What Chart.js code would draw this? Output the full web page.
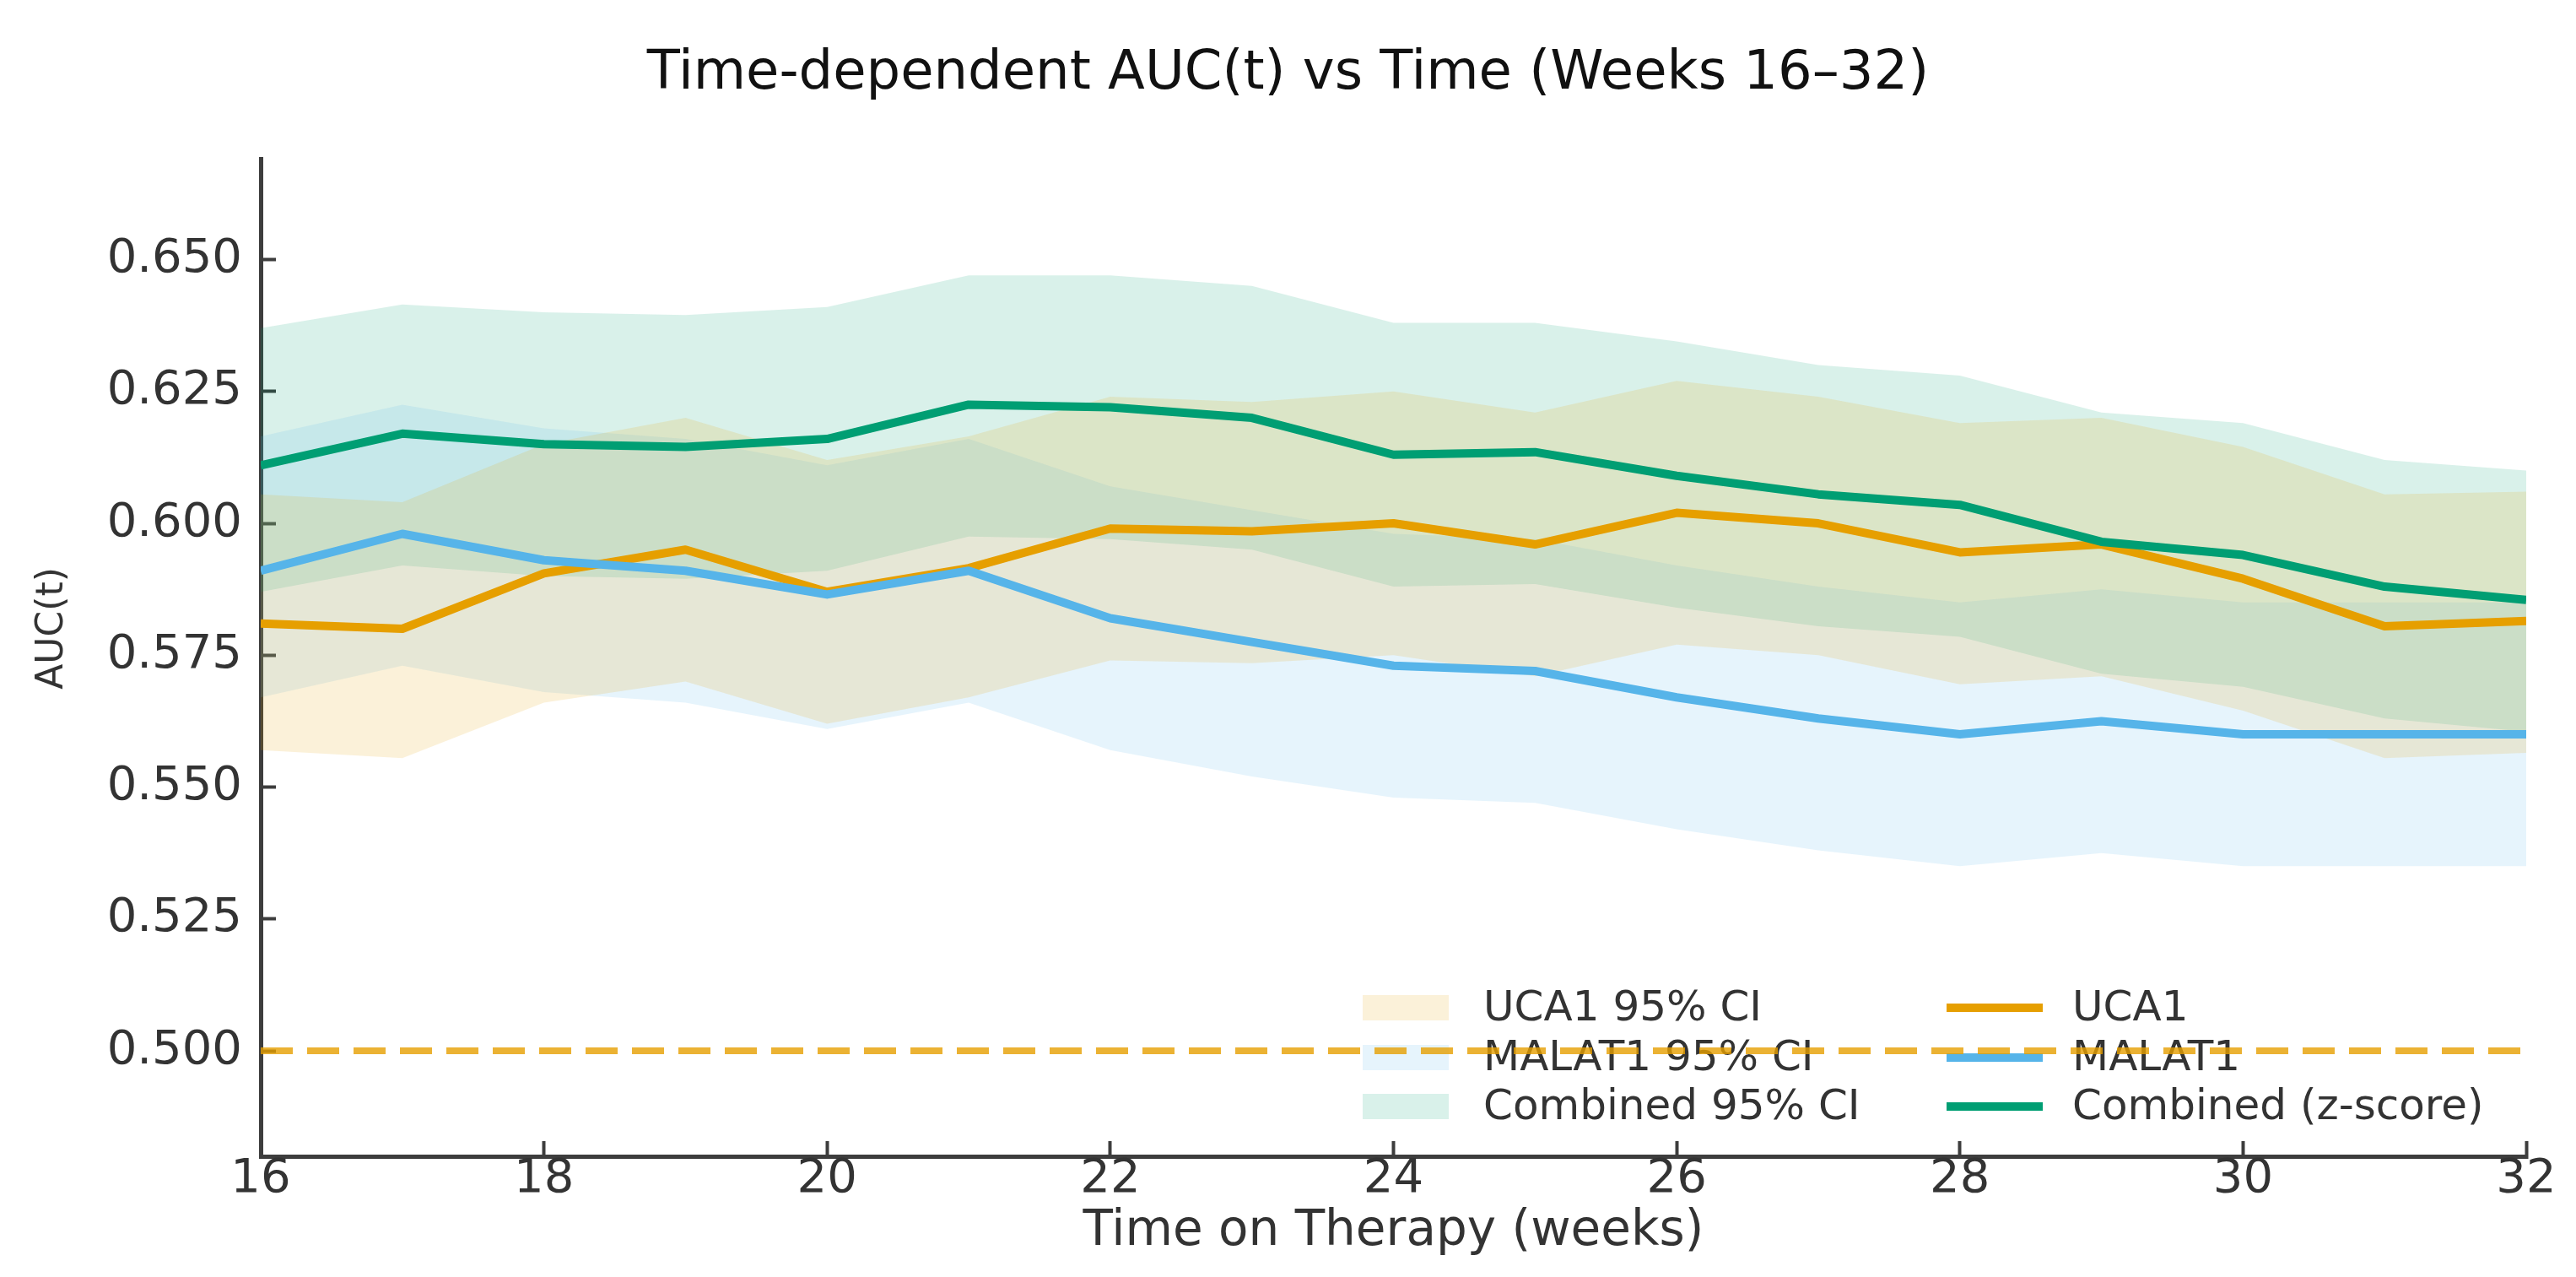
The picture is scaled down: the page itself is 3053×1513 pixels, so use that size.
<!DOCTYPE html>
<html>
<head>
<meta charset="utf-8">
<title>Time-dependent AUC(t) vs Time</title>
<script src="https://cdn.jsdelivr.net/npm/chart.js@4.4.1/dist/chart.umd.min.js"></script>
<style>
  html, body { margin: 0; padding: 0; background: #ffffff; }
  canvas { display: block; }
</style>
</head>
<body>
<canvas id="chart" width="3053" height="1513" style="width:3053px;height:1513px"></canvas>
<script>
// ---------------- data ----------------
const weeks = [16, 17, 18, 19, 20, 21, 22, 23, 24, 25, 26, 27, 28, 29, 30, 31, 32];

const uca1     = [0.581, 0.580, 0.5905, 0.595, 0.587, 0.5915, 0.599, 0.5985, 0.600, 0.596, 0.602, 0.600, 0.5945, 0.596, 0.5895, 0.5805, 0.5815];
const malat1   = [0.591, 0.598, 0.593, 0.591, 0.5865, 0.591, 0.582, 0.5775, 0.573, 0.572, 0.567, 0.563, 0.560, 0.5625, 0.560, 0.560, 0.560];
const combined = [0.611, 0.617, 0.615, 0.6145, 0.616, 0.6225, 0.622, 0.620, 0.613, 0.6135, 0.609, 0.6055, 0.6035, 0.5965, 0.594, 0.588, 0.5855];

const uca1Lower     = [0.557, 0.5555, 0.566, 0.570, 0.562, 0.567, 0.574, 0.5735, 0.575, 0.571, 0.577, 0.575, 0.5695, 0.571, 0.5645, 0.5555, 0.5565];
const uca1Upper     = [0.6055, 0.604, 0.615, 0.620, 0.612, 0.6165, 0.624, 0.623, 0.625, 0.621, 0.627, 0.624, 0.619, 0.620, 0.6145, 0.6055, 0.606];
const malat1Lower   = [0.567, 0.573, 0.568, 0.566, 0.561, 0.566, 0.557, 0.552, 0.548, 0.547, 0.542, 0.538, 0.535, 0.5375, 0.535, 0.535, 0.535];
const malat1Upper   = [0.6165, 0.6225, 0.618, 0.616, 0.611, 0.616, 0.607, 0.6025, 0.598, 0.597, 0.592, 0.588, 0.585, 0.5875, 0.585, 0.585, 0.585];
const combinedLower = [0.587, 0.592, 0.590, 0.5895, 0.591, 0.5975, 0.597, 0.595, 0.588, 0.5885, 0.584, 0.5805, 0.5785, 0.5715, 0.569, 0.563, 0.5605];
const combinedUpper = [0.637, 0.6415, 0.640, 0.6395, 0.641, 0.647, 0.647, 0.645, 0.638, 0.638, 0.6345, 0.630, 0.628, 0.621, 0.619, 0.612, 0.610];

const chanceLevel = 0.5;
const xTickStep = 2;
const yTickStep = 0.025;

// ---------------- styling ----------------
const C_UCA1 = '#E69F00';
const C_MALAT1 = '#56B4E9';
const C_COMB = '#009E73';
const F_UCA1 = 'rgba(230,159,0,0.15)';
const F_MALAT1 = 'rgba(86,180,233,0.15)';
const F_COMB = 'rgba(0,158,115,0.15)';
const FONT = 'DejaVu Sans';
const AXIS_COLOR = '#3d3d3d';

const pts = (arr) => arr.map((v, i) => ({ x: weeks[i], y: v }));
const chancePts = [weeks[0], weeks[weeks.length - 1]].map(w => ({ x: w, y: chanceLevel }));

const band = (label, data, color, fill, order) => ({
  label, data: pts(data), fill, backgroundColor: color, borderColor: 'rgba(0,0,0,0)',
  borderWidth: 0, pointRadius: 0, tension: 0, order, isBand: true
});
const line = (label, data, color, order) => ({
  label, data: pts(data), fill: false, borderColor: color, backgroundColor: color,
  borderWidth: 10, pointRadius: 0, tension: 0, borderJoinStyle: 'round', borderCapStyle: 'butt', order
});

// legend drawn inside the axes (two columns: CI patches, lines)
const legendPlugin = {
  id: 'insideLegend',
  beforeDatasetsDraw(chart) {
    const { ctx, chartArea: a } = chart;
    const ds = chart.data.datasets;
    const patches = ds.filter(d => d.isBand && d.fill !== false);
    const lines = ds.filter(d => !d.isBand && !d.isRef);
    const rowY = [a.bottom - 176, a.bottom - 117, a.bottom - 59];
    ctx.save();
    ctx.font = `50px "${FONT}"`;
    ctx.textBaseline = 'middle';
    ctx.textAlign = 'left';
    patches.forEach((d, i) => {
      const y = rowY[i];
      ctx.fillStyle = d.backgroundColor;
      ctx.fillRect(a.right - 1379, y - 15, 102, 30);
      ctx.fillStyle = '#333333';
      ctx.fillText(d.label, a.right - 1236, y + 2);
    });
    lines.forEach((d, i) => {
      const y = rowY[i];
      ctx.strokeStyle = d.borderColor;
      ctx.lineWidth = 10;
      ctx.beginPath();
      ctx.moveTo(a.right - 687, y);
      ctx.lineTo(a.right - 573, y);
      ctx.stroke();
      ctx.fillStyle = '#333333';
      ctx.fillText(d.label, a.right - 538, y + 2);
    });
    ctx.restore();
  }
};

const gridOpts = {
  drawOnChartArea: false, drawTicks: true, tickLength: -18, tickWidth: 4,
  tickColor: AXIS_COLOR, color: AXIS_COLOR
};

new Chart(document.getElementById('chart'), {
  type: 'line',
  data: {
    datasets: [
      band('UCA1 95% CI', uca1Upper, F_UCA1, '+1', 10),
      band('UCA1 lower', uca1Lower, F_UCA1, false, 11),
      band('MALAT1 95% CI', malat1Upper, F_MALAT1, '+1', 12),
      band('MALAT1 lower', malat1Lower, F_MALAT1, false, 13),
      band('Combined 95% CI', combinedUpper, F_COMB, '+1', 14),
      band('Combined lower', combinedLower, F_COMB, false, 15),
      line('UCA1', uca1, C_UCA1, 3),
      line('MALAT1', malat1, C_MALAT1, 2),
      line('Combined (z-score)', combined, C_COMB, 1),
      {
        label: 'Chance', data: chancePts, isRef: true, fill: false,
        borderColor: 'rgba(230,159,0,0.8)', borderWidth: 8, borderDash: [38, 17],
        borderCapStyle: 'butt', pointRadius: 0, order: 4
      }
    ]
  },
  options: {
    responsive: false,
    animation: false,
    devicePixelRatio: 1,
    layout: { padding: 0 },
    plugins: {
      legend: { display: false },
      tooltip: { enabled: false },
      filler: { drawTime: 'beforeDatasetsDraw', propagate: false },
      title: {
        display: true,
        text: 'Time-dependent AUC(t) vs Time (Weeks 16\u201332)',
        font: { family: FONT, size: 64, weight: 'normal' },
        color: '#111111',
        padding: { top: 50, bottom: 62 }
      }
    },
    scales: {
      x: {
        type: 'linear',
        min: weeks[0],
        max: weeks[weeks.length - 1],
        ticks: {
          stepSize: xTickStep, includeBounds: false, autoSkip: false, maxRotation: 0,
          font: { family: FONT, size: 56 }, color: '#333333', padding: 12
        },
        grid: gridOpts,
        border: { display: true, color: AXIS_COLOR, width: 5 },
        title: {
          display: true, text: 'Time on Therapy (weeks)',
          font: { family: FONT, size: 58 }, color: '#333333', padding: { top: 0, bottom: 18 }
        },
        afterFit(s) { s.height = 143; }
      },
      y: {
        type: 'linear',
        position: 'left',
        min: 0.48,
        max: 0.669,
        ticks: {
          stepSize: yTickStep, includeBounds: false,
          callback: (v) => Number(v).toFixed(3),
          font: { family: FONT, size: 56 }, color: '#333333', padding: 40
        },
        grid: gridOpts,
        border: { display: true, color: AXIS_COLOR, width: 5 },
        title: {
          display: true, text: '     AUC(t)',
          font: { family: FONT, size: 44 }, color: '#333333', padding: { top: 36, bottom: 0 }
        },
        afterFit(s) { s.width = 309; }
      },
      yR: {
        type: 'linear',
        position: 'right',
        display: true,
        grid: { display: false, drawTicks: false },
        border: { display: false },
        ticks: { display: false },
        afterFit(s) { s.width = 59; }
      }
    }
  },
  plugins: [legendPlugin]
});
</script>
</body>
</html>
